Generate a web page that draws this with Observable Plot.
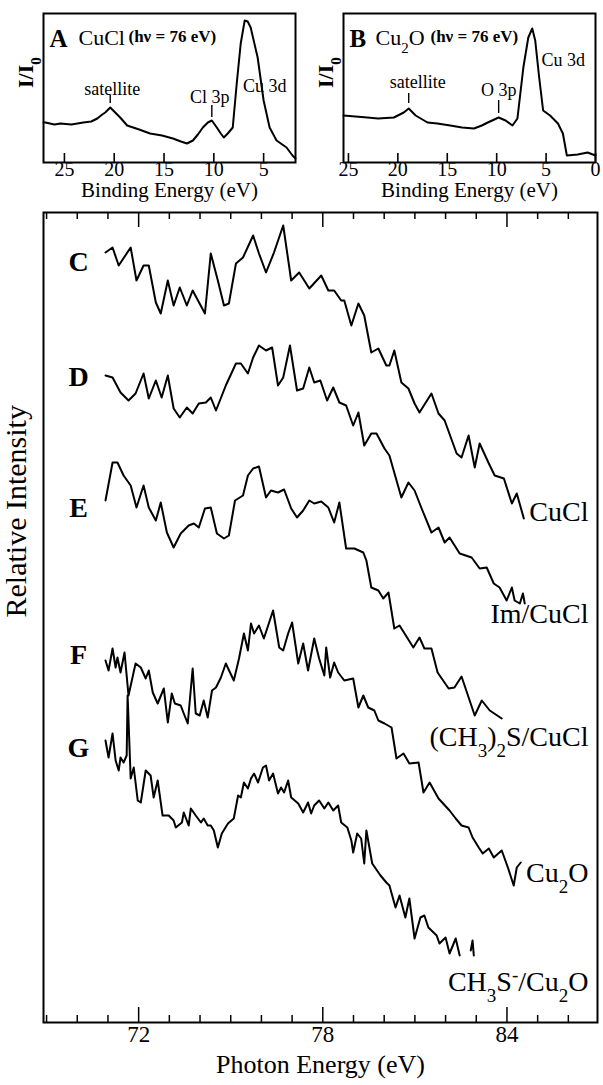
<!DOCTYPE html>
<html>
<head>
<meta charset="utf-8">
<script src="https://cdn.jsdelivr.net/npm/d3@7"></script>
<script src="https://cdn.jsdelivr.net/npm/@observablehq/plot@0.6"></script>
<style>
  body { margin: 0; background: #fff; }
  #fig { position: relative; width: 603px; height: 1085px; overflow: hidden; }
  #fig svg { position: absolute; overflow: visible; }
</style>
</head>
<body>
<div id="fig"></div>
<script>
// ---------- Valence-band photoemission, hv = 76 eV ----------
const cuclBinding = [27.1, 26.9, 26.0, 25.4, 24.3, 23.1, 22.3, 21.7, 21.2, 20.9,
  20.4, 19.9, 19.4, 18.7, 17.5, 16.4, 15.2, 14.1, 13.3, 12.7,
  12.1, 11.6, 11.1, 10.6, 10.2, 9.7, 9.3, 9.0, 8.6, 8.1,
  7.7, 7.3, 6.9, 6.6, 6.3, 5.6, 5.0, 4.4, 3.7, 2.7, 2.1, 1.8];
const cuclYield = [4.0, 4.0, 3.8, 3.9, 3.8, 4.0, 4.1, 4.4, 4.8, 5.0,
  5.5, 5.0, 4.5, 3.7, 3.3, 2.9, 2.7, 2.4, 2.1, 1.9,
  2.2, 2.8, 3.5, 4.0, 4.2, 3.5, 2.9, 2.5, 2.9, 3.5,
  7.9, 11.9, 14.2, 14.1, 13.5, 10.5, 6.2, 3.5, 2.2, 1.5, 0.7, 0.4];
const cuclPeakNames = ["satellite", "Cl 3p", "Cu 3d"];
const cuclPeakEnergies = [20.4, 10.2, 6.9];

const cu2oBinding = [25.5, 23.1, 22.0, 20.4, 19.4, 18.9, 18.2, 17.0, 16.0, 14.7,
  13.5, 12.3, 11.5, 10.9, 9.8, 9.1, 8.4, 7.9, 7.3, 6.8,
  6.4, 6.1, 5.7, 5.3, 4.6, 3.8, 3.3, 2.9, 1.8, 0.8, 0.0];
const cu2oYield = [4.7, 4.5, 4.4, 4.5, 5.0, 5.4, 4.7, 4.0, 3.9, 3.7,
  3.5, 3.4, 3.7, 4.0, 4.5, 4.2, 3.7, 4.4, 9.5, 12.5,
  13.4, 12.2, 8.5, 5.2, 4.7, 3.9, 2.9, 0.7, 0.8, 1.0, 0.7];
const cu2oPeakNames = ["satellite", "O 3p", "Cu 3d"];
const cu2oPeakEnergies = [18.9, 9.8, 6.4];

const cuclBindingTicks = [25, 20, 15, 10, 5];
const cu2oBindingTicks = [25, 20, 15, 10, 5, 0];

// ---------- Photon-energy scans (C–G) ----------
const cEnergy = [70.92, 71.15, 71.35, 71.74, 71.93, 72.16, 72.33, 72.56, 72.72, 72.95,
  73.14, 73.34, 73.57, 73.76, 74.16, 74.35, 74.58, 74.78, 74.94, 75.17,
  75.40, 75.73, 75.92, 76.15, 76.41, 76.71, 76.97, 77.23, 77.56, 77.95,
  78.18, 78.37, 78.60, 78.70, 78.93, 79.16, 79.35, 79.58, 79.81, 80.07,
  80.17, 80.33, 80.56, 80.79, 80.99, 81.15, 81.54, 81.77, 81.97, 82.36,
  82.52, 82.75, 82.95, 83.11, 83.41, 83.60, 83.90, 84.16, 84.32, 84.55];
const cIntensity = [7.70, 7.75, 7.57, 7.75, 7.42, 7.57, 7.57, 7.20, 7.09, 7.42,
  7.17, 7.35, 7.17, 7.32, 7.09, 7.69, 7.42, 7.17, 7.19, 7.59,
  7.65, 7.87, 7.69, 7.50, 7.70, 7.97, 7.42, 7.50, 7.34, 7.47,
  7.32, 7.32, 7.22, 7.22, 6.97, 7.19, 7.07, 6.70, 6.74, 6.57,
  6.57, 6.72, 6.40, 6.34, 6.19, 6.10, 6.29, 6.09, 6.02, 5.69,
  5.65, 5.87, 5.55, 5.79, 5.59, 5.47, 5.44, 5.19, 5.29, 5.04];

const dEnergy = [70.92, 71.15, 71.41, 71.67, 71.90, 72.16, 72.33, 72.56, 72.75, 72.95,
  73.14, 73.34, 73.57, 73.76, 73.96, 74.19, 74.35, 74.52, 74.84, 75.17,
  75.33, 75.56, 75.73, 75.92, 76.15, 76.35, 76.54, 76.71, 76.93, 77.16,
  77.36, 77.56, 77.72, 77.92, 78.14, 78.34, 78.54, 78.76, 78.99, 79.16,
  79.35, 79.58, 79.75, 80.01, 80.17, 80.56, 80.79, 80.99, 81.22, 81.54,
  81.77, 81.97, 82.13, 82.46, 82.85, 83.11, 83.34, 83.57, 83.76, 83.99,
  84.16, 84.25, 84.42, 84.52, 84.58];
const dIntensity = [6.47, 6.45, 6.30, 6.22, 6.29, 6.49, 6.24, 6.42, 6.25, 6.47,
  6.14, 6.05, 6.15, 6.09, 6.19, 6.20, 6.25, 6.12, 6.37, 6.59,
  6.59, 6.49, 6.65, 6.77, 6.72, 6.75, 6.37, 6.45, 6.77, 6.32,
  6.34, 6.55, 6.40, 6.42, 6.22, 6.35, 6.20, 6.17, 5.97, 6.10,
  5.77, 5.89, 5.89, 5.74, 5.67, 5.25, 5.40, 5.32, 5.14, 4.90,
  4.95, 4.80, 4.85, 4.69, 4.65, 4.54, 4.55, 4.39, 4.35, 4.22,
  4.35, 4.22, 4.19, 4.29, 4.19];

const eEnergy = [70.92, 71.15, 71.31, 71.51, 71.74, 71.93, 72.16, 72.33, 72.56, 72.72,
  72.92, 73.14, 73.37, 73.63, 73.80, 73.96, 74.16, 74.35, 74.55, 74.78,
  74.94, 75.14, 75.40, 75.56, 75.73, 75.92, 76.15, 76.31, 76.54, 76.74,
  76.97, 77.16, 77.36, 77.56, 77.72, 77.95, 78.18, 78.37, 78.54, 78.76,
  79.03, 79.32, 79.42, 79.58, 79.81, 79.97, 80.14, 80.33, 80.50, 80.95,
  81.15, 81.31, 81.54, 81.74, 82.10, 82.29, 82.52, 82.95, 83.18, 83.44,
  83.83];
const eIntensity = [5.22, 5.60, 5.60, 5.47, 5.37, 5.15, 5.37, 5.15, 5.02, 5.20,
  4.90, 4.75, 4.89, 4.97, 4.99, 4.95, 5.14, 5.15, 4.89, 4.84,
  4.87, 5.22, 5.27, 5.47, 5.54, 5.56, 5.25, 5.32, 5.30, 5.33,
  5.14, 5.05, 5.12, 5.22, 5.19, 5.21, 5.15, 5.00, 5.20, 4.74,
  4.74, 4.70, 4.62, 4.35, 4.32, 4.24, 4.30, 3.94, 3.97, 3.75,
  3.85, 3.74, 3.74, 3.50, 3.34, 3.35, 3.46, 3.07, 3.22, 3.12,
  3.04];

const fEnergy = [70.92, 71.02, 71.15, 71.25, 71.31, 71.41, 71.54, 71.67, 71.90, 72.07,
  72.23, 72.33, 72.46, 72.62, 72.82, 72.95, 73.08, 73.18, 73.37, 73.47,
  73.60, 73.76, 73.86, 73.99, 74.12, 74.25, 74.39, 74.52, 74.68, 74.84,
  75.10, 75.27, 75.43, 75.56, 75.66, 75.76, 75.92, 76.08, 76.38, 76.58,
  76.71, 76.87, 77.00, 77.20, 77.36, 77.52, 77.72, 77.88, 78.05, 78.11,
  78.24, 78.37, 78.50, 78.70, 78.99, 79.16, 79.32, 79.48, 79.68, 79.81,
  80.01, 80.24, 80.40, 80.63, 80.82, 81.12, 81.28, 81.48, 81.77, 82.13,
  82.33, 82.52, 82.75, 82.88, 83.08, 83.21, 83.41, 83.57, 83.83, 84.03,
  84.22, 84.32, 84.45];
const fIntensity = [3.62, 3.52, 3.74, 3.55, 3.65, 3.50, 3.70, 3.27, 3.59, 3.55,
  3.44, 3.52, 3.30, 3.19, 3.34, 3.00, 3.29, 3.19, 3.17, 3.09,
  2.99, 3.54, 3.09, 3.07, 3.22, 3.05, 3.32, 3.35, 3.45, 3.59,
  3.42, 3.64, 3.89, 3.72, 3.99, 3.89, 3.97, 3.84, 4.12, 3.75,
  3.72, 3.89, 4.00, 3.59, 3.79, 3.52, 3.84, 3.64, 3.47, 3.75,
  3.45, 3.60, 3.50, 3.42, 3.44, 3.15, 3.27, 3.15, 3.12, 3.02,
  2.99, 2.95, 2.64, 2.69, 2.59, 2.60, 2.30, 2.40, 2.24, 2.12,
  2.04, 1.97, 1.95, 1.85, 1.75, 1.69, 1.74, 1.65, 1.72, 1.55,
  1.37, 1.55, 1.60];

const gEnergy = [70.92, 71.02, 71.15, 71.25, 71.35, 71.41, 71.51, 71.61, 71.64, 71.74,
  71.84, 71.97, 72.07, 72.23, 72.39, 72.49, 72.62, 72.78, 72.98, 73.14,
  73.21, 73.41, 73.47, 73.63, 73.70, 73.86, 74.03, 74.12, 74.25, 74.35,
  74.45, 74.58, 74.71, 74.91, 75.10, 75.24, 75.33, 75.43, 75.56, 75.66,
  75.76, 75.89, 76.05, 76.15, 76.25, 76.38, 76.54, 76.64, 76.74, 76.87,
  76.97, 77.20, 77.36, 77.52, 77.62, 77.72, 77.88, 78.05, 78.18, 78.34,
  78.50, 78.60, 78.80, 78.93, 78.99, 79.12, 79.25, 79.35, 79.42, 79.61,
  79.88, 80.07, 80.17, 80.37, 80.50, 80.69, 80.82, 80.99, 81.18, 81.31,
  81.44, 81.71, 81.80, 82.00, 82.13, 82.33, 82.46, 82.64, 82.82, 82.88,
  82.92];
const gIntensity = [2.82, 2.65, 2.89, 2.62, 2.52, 2.65, 2.60, 2.67, 3.27, 2.44,
  2.55, 2.22, 2.20, 2.52, 2.47, 2.25, 2.42, 2.07, 2.07, 2.02,
  1.95, 2.00, 2.10, 1.97, 2.14, 2.07, 2.00, 2.04, 1.97, 1.97,
  1.92, 1.75, 1.89, 1.99, 2.04, 2.27, 2.25, 2.40, 2.34, 2.44,
  2.49, 2.40, 2.55, 2.57, 2.42, 2.49, 2.29, 2.35, 2.30, 2.42,
  2.25, 2.19, 2.10, 2.20, 2.09, 2.17, 2.22, 2.14, 2.20, 2.12,
  2.17, 2.00, 1.95, 1.82, 1.70, 1.89, 1.84, 1.59, 1.92, 1.59,
  1.47, 1.40, 1.37, 1.15, 1.27, 1.05, 1.24, 0.84, 1.05, 1.07,
  0.95, 0.87, 0.79, 0.85, 0.69, 0.84, 0.67, null, 0.72, 0.82,
  0.67];

const spectrumLetters = ["C", "D", "E", "F", "G"];
const spectrumSamples = ["CuCl", "Im/CuCl", "(CH_3)_2S/CuCl", "Cu_2O", "CH_3S^-/Cu_2O"];
const photonMajorTicks = [72, 78, 84];
const photonMinorTicks = [69, 70, 71, 73, 74, 75, 76, 77, 79, 80, 81, 82, 83, 85, 86];

// ---------- drawing ----------
const serif = "'Liberation Serif', 'Times New Roman', serif";
const fig = document.getElementById("fig");

// turn "_x" into a subscript and "^x" into a superscript
function richText(svg) {
  d3.select(svg).selectAll("text").each(function () {
    const s = this.textContent;
    if (!/[_^]/.test(s)) return;
    const t = d3.select(this).text(null);
    for (const m of s.matchAll(/([_^])(.)|([^_^]+)/g)) {
      if (m[3]) t.append("tspan").text(m[3]);
      else t.append("tspan")
        .attr("baseline-shift", m[1] === "_" ? "sub" : "super")
        .attr("font-size", "68%")
        .text(m[2]);
    }
  });
}

function place(svg, left, top) {
  svg.style.left = left + "px";
  svg.style.top = top + "px";
  richText(svg);
  fig.appendChild(svg);
}

// small photoemission panel (A / B)
function bindingPanel({binding, yieldValues, domain, ticks, letter, compound, peakNames, peakEnergies, peakStyle, width, marginRight, titleOffsets}) {
  const marginTop = 13, marginBottom = 38, height = 200;
  const frameH = height - marginTop - marginBottom;
  const rows = binding.map((e, k) => ({e, v: yieldValues[k]}));
  const peaks = peakNames.map((name, k) => {
    const e = peakEnergies[k];
    return {name, e, v: yieldValues[binding.indexOf(e)], ...peakStyle[k]};
  });
  return Plot.plot({
    width, height, marginTop, marginBottom, marginLeft: 43, marginRight,
    style: {fontFamily: serif, background: "none", overflow: "visible"},
    x: {domain, axis: null},
    y: {domain: [0, 14.9], axis: null},
    marks: [
      Plot.frame({strokeWidth: 2}),
      Plot.tickX(ticks, {x: d => d, insetTop: frameH - 9, strokeWidth: 1.6}),
      Plot.axisX(ticks, {tickSize: 0, tickPadding: -1, fontSize: 20, label: null, fontFamily: serif}),
      Plot.text(["Binding Energy (eV)"], {frameAnchor: "bottom", dy: 34, fontSize: 21}),
      Plot.text(["I/I_0"], {frameAnchor: "left", rotate: -90, dx: -18, fontSize: 22, fontWeight: "bold"}),
      Plot.line(rows, {x: "e", y: "v", strokeWidth: 2}),
      ...peaks.filter(p => p.mark).map(p =>
        Plot.ruleX([p], {x: "e", y1: d => d.v + p.mark[0], y2: d => d.v + p.mark[1], strokeWidth: 1.4})),
      ...peaks.map(p =>
        Plot.text([p], {x: "e", y: "v", text: "name", dx: p.dx, dy: p.dy, fontSize: 18})),
      Plot.text([letter], {frameAnchor: "top-left", textAnchor: "start", dx: 6, dy: 16, fontSize: 25, fontWeight: "bold"}),
      Plot.text([compound], {frameAnchor: "top-left", textAnchor: "start", dx: titleOffsets[0], dy: 16, fontSize: 22}),
      Plot.text(["(hν = 76 eV)"], {frameAnchor: "top-left", textAnchor: "start", dx: titleOffsets[1], dy: 16, fontSize: 17, fontWeight: "bold"})
    ]
  });
}

place(bindingPanel({
  binding: cuclBinding, yieldValues: cuclYield, domain: [27.1, 1.8], ticks: cuclBindingTicks,
  letter: "A", compound: "CuCl", peakNames: cuclPeakNames, peakEnergies: cuclPeakEnergies,
  peakStyle: [{dx: 2, dy: -18, mark: [0.4, 1.2]}, {dx: -2, dy: -23, mark: [0.3, 1.5]}, {dx: 20, dy: 66}],
  width: 300, marginRight: 5, titleOffsets: [35, 85]
}), 0, 0);

place(bindingPanel({
  binding: cu2oBinding, yieldValues: cu2oYield, domain: [25.5, 0], ticks: cu2oBindingTicks,
  letter: "B", compound: "Cu_2O", peakNames: cu2oPeakNames, peakEnergies: cu2oPeakEnergies,
  peakStyle: [{dx: 9, dy: -26, mark: [0.5, 1.5]}, {dx: 0, dy: -27, mark: [0.4, 1.7]}, {dx: 31, dy: 32}],
  width: 303, marginRight: 8, titleOffsets: [32, 87]
}), 300, 0);

// main panel: photon-energy dependence
const energies = [cEnergy, dEnergy, eEnergy, fEnergy, gEnergy];
const intensities = [cIntensity, dIntensity, eIntensity, fIntensity, gIntensity];
const traceRows = spectrumLetters.flatMap((panel, s) =>
  energies[s].map((energy, k) => ({panel, energy, intensity: intensities[s][k]})));
const starts = spectrumLetters.map((panel, s) => ({panel, energy: energies[s][0], intensity: intensities[s][0]}));
const ends = spectrumLetters.map((panel, s) => {
  const v = intensities[s].filter(d => d != null);
  return {panel, sample: spectrumSamples[s], intensity: v[v.length - 1]};
});
const letterShift = [10, 2, 8, -5, 8];            // px, vertical nudge of each letter
const sampleShift = [0.06, -0.11, -0.19, -0.11, -0.27]; // label height relative to trace end

const frameMain = 1022 - 212;
const mainPlot = Plot.plot({
  width: 603, height: 885, marginTop: 12, marginBottom: 63, marginLeft: 43, marginRight: 6,
  style: {fontFamily: serif, background: "none", overflow: "visible"},
  x: {domain: [68.9, 86.95], axis: null},
  y: {domain: [0, 8.1], axis: null},
  marks: [
    Plot.frame({strokeWidth: 2}),
    Plot.tickX(photonMinorTicks, {x: d => d, insetTop: frameMain - 7, strokeWidth: 1.5}),
    Plot.tickX(photonMajorTicks, {x: d => d, insetTop: frameMain - 15, strokeWidth: 1.5}),
    Plot.tickX(photonMinorTicks, {x: d => d, insetBottom: frameMain - 7, strokeWidth: 1.5}),
    Plot.tickX(photonMajorTicks, {x: d => d, insetBottom: frameMain - 15, strokeWidth: 1.5}),
    Plot.axisX(photonMajorTicks, {tickSize: 0, tickPadding: 3, fontSize: 23, label: null, fontFamily: serif}),
    Plot.text(["Photon Energy (eV)"], {frameAnchor: "bottom", dy: 50, fontSize: 26}),
    Plot.text(["Relative Intensity"], {frameAnchor: "left", rotate: -90, dx: -27, fontSize: 30}),
    Plot.line(traceRows, {x: "energy", y: "intensity", z: "panel", strokeWidth: 2}),
    ...starts.map((d, s) => Plot.text([d], {x: "energy", y: "intensity", text: "panel",
      dx: -27, dy: letterShift[s], fontSize: 28, fontWeight: "bold"})),
    Plot.text(ends, {y: (d, k) => d.intensity + sampleShift[k], text: "sample",
      frameAnchor: "right", textAnchor: "end", dx: -9, fontSize: 28})
  ]
});
place(mainPlot, 0, 200);
</script>
</body>
</html>
